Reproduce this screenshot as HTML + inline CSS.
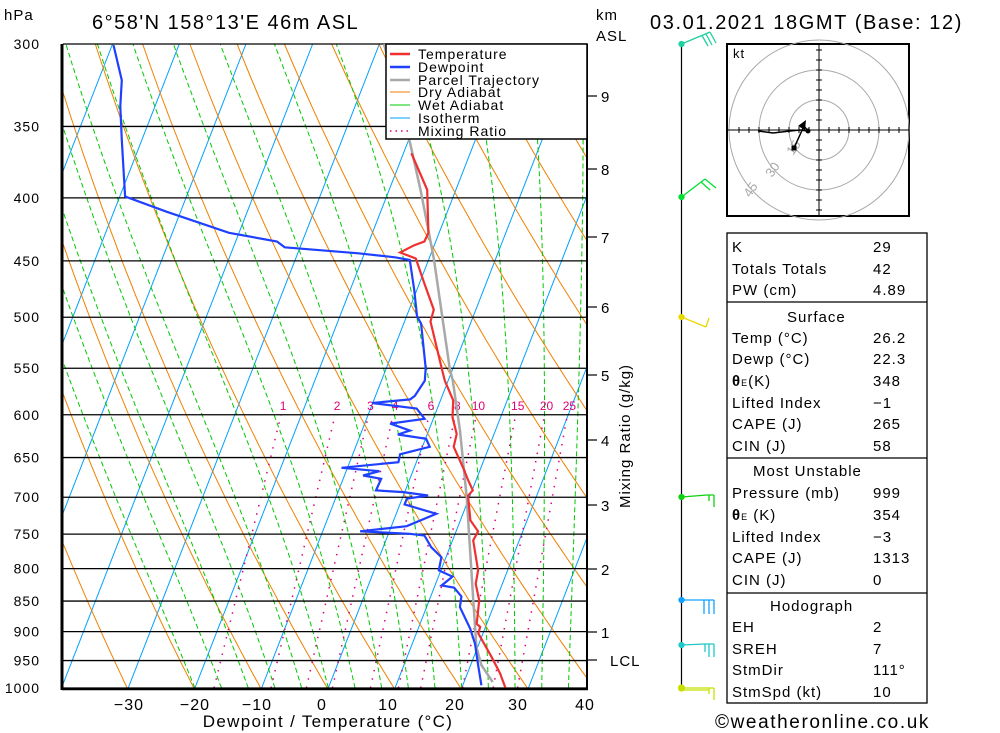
<!DOCTYPE html>
<html><head><meta charset="utf-8">
<style>
html,body{margin:0;padding:0;background:#fff;}
svg{display:block;font-family:"Liberation Sans",sans-serif;}
.t{font-size:15px;letter-spacing:1px;fill:#000;}
</style></head>
<body>
<svg id="chart" width="1000" height="733" viewBox="0 0 1000 733" xmlns="http://www.w3.org/2000/svg">
<defs><clipPath id="plotclip"><rect x="63" y="44" width="524" height="644"/></clipPath></defs>
<rect x="0" y="0" width="1000" height="733" fill="#fff"/>
<g id="bg" clip-path="url(#plotclip)"></g>
<g id="plines"></g>
<g id="series" clip-path="url(#plotclip)"></g>
<g id="axes"></g>

<text x="4" y="20" font-size="15" letter-spacing="1">hPa</text>
<text x="92" y="29" font-size="20" letter-spacing="1.5">6°58'N  158°13'E  46m  ASL</text>
<text x="596" y="20" font-size="15" letter-spacing="1">km</text>
<text x="596" y="41" font-size="15" letter-spacing="1">ASL</text>
<text x="650" y="29" font-size="20" letter-spacing="1.6">03.01.2021  18GMT  (Base: 12)</text>
<text x="328" y="727" font-size="17" letter-spacing="1.3" text-anchor="middle">Dewpoint / Temperature (°C)</text>
<text x="715" y="728" font-size="19" letter-spacing="1.6">©weatheronline.co.uk</text>
<text transform="translate(630,508) rotate(-90)" font-size="15" letter-spacing="1">Mixing Ratio (g/kg)</text>

<g>
<rect x="386" y="44" width="201" height="95" fill="#fff" stroke="#000" stroke-width="1.5"/>
<g font-size="14" letter-spacing="1">
<line x1="390" y1="54" x2="410" y2="54" stroke="#f03030" stroke-width="2.5"/><text x="418" y="59">Temperature</text>
<line x1="390" y1="67" x2="410" y2="67" stroke="#2040ff" stroke-width="2.5"/><text x="418" y="72">Dewpoint</text>
<line x1="390" y1="80" x2="410" y2="80" stroke="#a8a8a8" stroke-width="2.5"/><text x="418" y="85">Parcel Trajectory</text>
<line x1="390" y1="92" x2="410" y2="92" stroke="#f08000" stroke-width="1"/><text x="418" y="97">Dry Adiabat</text>
<line x1="390" y1="105" x2="410" y2="105" stroke="#00c800" stroke-width="1"/><text x="418" y="110">Wet Adiabat</text>
<line x1="390" y1="118" x2="410" y2="118" stroke="#00a0ff" stroke-width="1"/><text x="418" y="123">Isotherm</text>
<line x1="390" y1="131" x2="410" y2="131" stroke="#e0007a" stroke-width="1.5" stroke-dasharray="1.5 4"/><text x="418" y="136">Mixing Ratio</text>
</g></g>

<g stroke-width="1.3" fill="none">
<line x1="681.5" y1="44" x2="681.5" y2="688" stroke="#000" stroke-width="1.2"/>
<g stroke="#20d0a0"><polyline points="681.5,44 710,32"/><line x1="710" y1="32" x2="716" y2="43"/><line x1="706" y1="34" x2="712" y2="45"/><line x1="702" y1="35.5" x2="708" y2="46"/><circle cx="681.5" cy="44" r="2.5" fill="#20d0a0"/></g>
<g stroke="#00e030"><polyline points="681.5,197 705,179"/><line x1="705" y1="179" x2="716" y2="188"/><line x1="701" y1="182" x2="710" y2="190"/><circle cx="681.5" cy="197" r="2.5" fill="#00e030"/></g>
<g stroke="#e8d800"><polyline points="681.5,317 706,327"/><line x1="706" y1="327" x2="709" y2="318"/><circle cx="681.5" cy="317" r="2.5" fill="#e8d800"/></g>
<g stroke="#10d010"><polyline points="681.5,497 707,495 714,495"/><line x1="714" y1="495" x2="714" y2="507"/><line x1="709" y1="495" x2="709" y2="501"/><circle cx="681.5" cy="497" r="2.5" fill="#10d010"/></g>
<g stroke="#10a0ff"><polyline points="681.5,600 714,600"/><line x1="714" y1="600" x2="714" y2="614"/><line x1="709" y1="600" x2="709" y2="614"/><line x1="704" y1="600" x2="704" y2="614"/><circle cx="681.5" cy="600" r="2.5" fill="#10a0ff"/></g>
<g stroke="#20c8c8"><polyline points="681.5,645 705,644 714,644"/><line x1="714" y1="644" x2="714" y2="657"/><line x1="709" y1="644" x2="709" y2="657"/><line x1="705" y1="644" x2="705" y2="652"/><circle cx="681.5" cy="645" r="2.5" fill="#20c8c8"/></g>
<g stroke="#c8e000"><polyline points="681.5,688 714,688"/><line x1="714" y1="688" x2="714" y2="700"/><line x1="709" y1="688" x2="709" y2="694"/><line x1="681.5" y1="690" x2="709" y2="690"/><circle cx="681.5" cy="688" r="3" fill="#c8e000"/></g>
</g>

<g>
<rect x="727" y="44" width="182" height="172" fill="#fff" stroke="#000" stroke-width="2"/>
<g fill="none" stroke="#a8a8a8" stroke-width="1">
<circle cx="819" cy="130" r="30"/><circle cx="819" cy="130" r="60"/><circle cx="819" cy="130" r="90"/>
</g>
<g id="hodoaxes" stroke="#000" stroke-width="1"></g>
<text x="733" y="58" font-size="13" letter-spacing="1">kt</text>
<g fill="#a8a8a8" font-size="13">
<text transform="translate(793,156) rotate(-55)">15</text>
<text transform="translate(772,178) rotate(-55)">30</text>
<text transform="translate(750,198) rotate(-55)">45</text>
</g>
<polyline points="794,148 804,126 808,131 800,130 790,131 773,133 758,131" fill="none" stroke="#000" stroke-width="1.5"/>
<rect x="791.5" y="145.5" width="5" height="5" fill="#000"/>
<path d="M798,126 L806,120 L805,130 Z" fill="#000"/>
<circle cx="808" cy="131" r="2.5" fill="#000"/>
</g>

<g>
<g fill="none" stroke="#000" stroke-width="1.3">
<rect x="727" y="233" width="200" height="470"/>
<line x1="727" y1="302" x2="927" y2="302"/>
<line x1="727" y1="458" x2="927" y2="458"/>
<line x1="727" y1="593" x2="927" y2="593"/>
</g>
<g class="t">
<text x="732" y="252">K</text><text x="873" y="252">29</text>
<text x="732" y="274">Totals Totals</text><text x="873" y="274">42</text>
<text x="732" y="295">PW (cm)</text><text x="873" y="295">4.89</text>
<text x="787" y="322">Surface</text>
<text x="732" y="343">Temp (°C)</text><text x="873" y="343">26.2</text>
<text x="732" y="364">Dewp (°C)</text><text x="873" y="364">22.3</text>
<text x="732" y="386"><tspan font-weight="bold">θ</tspan><tspan font-size="9">E</tspan>(K)</text><text x="873" y="386">348</text>
<text x="732" y="408">Lifted Index</text><text x="873" y="408">−1</text>
<text x="732" y="429">CAPE (J)</text><text x="873" y="429">265</text>
<text x="732" y="451">CIN (J)</text><text x="873" y="451">58</text>
<text x="753" y="476">Most Unstable</text>
<text x="732" y="498">Pressure (mb)</text><text x="873" y="498">999</text>
<text x="732" y="520"><tspan font-weight="bold">θ</tspan><tspan font-size="9">E</tspan> (K)</text><text x="873" y="520">354</text>
<text x="732" y="542">Lifted Index</text><text x="873" y="542">−3</text>
<text x="732" y="563">CAPE (J)</text><text x="873" y="563">1313</text>
<text x="732" y="585">CIN (J)</text><text x="873" y="585">0</text>
<text x="770" y="611">Hodograph</text>
<text x="732" y="632">EH</text><text x="873" y="632">2</text>
<text x="732" y="654">SREH</text><text x="873" y="654">7</text>
<text x="732" y="675">StmDir</text><text x="873" y="675">111°</text>
<text x="732" y="697">StmSpd (kt)</text><text x="873" y="697">10</text>
</g></g>
</svg>

<script>
// ---- data ----
const pressureLevels = [300,350,400,450,500,550,600,650,700,750,800,850,900,950,1000];
const tempTicks = [-30,-20,-10,0,10,20,30,40];
const tempTickX = [129,195,257,322,388,455,518,585];
const kmLabels = ["1","2","3","4","5","6","7","8","9"];
const kmY = [632,569,505,440,375,307,237,169,96];
const mixingRatios = [1,2,3,4,6,8,10,15,20,25];
const tempP = [368,394,427,434,437,443,448,469,493,504,550,563,584,603,622,637,662,678,691,698,731,746,759,803,823,849,887,892,903,944,973,999];
const tempT = [-18.8,-14.3,-11.6,-11.7,-13.0,-14.7,-12.0,-9.3,-6.3,-6.1,-1.7,-0.5,1.9,2.8,4.4,4.7,7.3,8.8,10.1,9.7,11.5,13.3,13.1,15.6,16.0,17.5,18.5,19.2,19.3,22.7,24.9,26.5];
const dewP = [300.6,321,337,359,399,410.5,427,434,438.7,443.7,447,449.3,475,499.5,506,550,563,579,583,587,593,604.5,610,618,622.5,627.6,637,646,655.6,662.6,666.8,672.2,676.3,691.2,693.4,697.7,702,709.5,722,739,746,749.6,752,768.6,783,802.7,812,825.6,829,842.6,859.7,895,920.6,955.4,995];
const dewT = [-69.8,-66.5,-65.2,-63.0,-59.2,-52.1,-41.5,-33.8,-32.3,-20.9,-15.2,-12.8,-10.4,-8.4,-7.4,-4.1,-3.5,-4.1,-4.6,-10.1,-3.1,-1.3,-6.2,-2.8,-4.4,0.1,1.1,-2.9,-2.7,-10.9,-5.0,-7.2,-4.3,-4.4,-0.2,3.7,0.7,0.7,6.0,2.3,-4.4,3.2,5.5,7.2,9.3,9.7,12.1,11.0,13.0,14.6,15.0,17.8,19.4,21.0,22.8];
const parcelP = [300,361,394,420,449,550,563,618,700,844,926,958,989];
const parcelT = [-29.3,-19.6,-15.3,-12.3,-9.2,-0.5,0.7,4.7,9.6,16.4,19.8,21.6,24.3];
const isotherms = [-120,-110,-100,-90,-80,-70,-60,-50,-40,-30,-20,-10,0,10,20,30,40];
const dryTheta = [233,243,253,263,273,283,293,303,313,323,333,343,353,363,373,383,393,403,413,423,433,443,453];
const wetStart = [-20,-16,-12,-8,-4,0,4,8,12,16,20,24,28,32,36];

const NS='http://www.w3.org/2000/svg';
function yP(p){return 44 + Math.log(p/300)/Math.log(1000/300)*644;}
function xT(T,p){return 328.3 + 6.67*T + 0.39*(688 - yP(p));}
function mk(tag,attrs,parent){const e=document.createElementNS(NS,tag);for(const k in attrs)e.setAttribute(k,attrs[k]);parent.appendChild(e);return e;}
function pathFrom(ps,ts){let d='';for(let i=0;i<ps.length;i++){d+=(i?'L':'M')+xT(ts[i],ps[i]).toFixed(1)+','+yP(ps[i]).toFixed(1);}return d;}

const bg=document.getElementById('bg');
isotherms.forEach(T=>{
  const el=mk('line',{x1:xT(T,1000),y1:yP(1000),x2:xT(T,300),y2:yP(300),stroke:'#00a0ff','stroke-width':1},bg);
  
  
});
dryTheta.forEach(th=>{
  let d='';for(let p=1000;p>=300;p-=10){const T=th*Math.pow(p/1000,0.286)-273.15;d+=(p===1000?'M':'L')+xT(T,p).toFixed(1)+','+yP(p).toFixed(1);}
  const el=mk('path',{d:d,fill:'none',stroke:'#f08000','stroke-width':1},bg);
  
  
});
wetStart.forEach(t0=>{
  let T=t0+273.15,d='M'+xT(t0,1000).toFixed(1)+','+yP(1000).toFixed(1);
  for(let p=1000;p>300;p-=2){
    const es=6.112*Math.exp(17.67*(T-273.15)/(T-29.65));const rs=0.622*es/(p-es);
    const dTdp=(287*T+2.5e6*rs)/(p*(1004+2.5e6*2.5e6*rs*0.622/(287*T*T)));
    T+=dTdp*(-2);
    d+='L'+xT(T-273.15,p-2).toFixed(1)+','+yP(p-2).toFixed(1);
  }
  const el=mk('path',{d:d,fill:'none',stroke:'#00c800','stroke-width':1,'stroke-dasharray':'5 3'},bg);
  
  
});
function tdFromW(w,p){const e=w*p/(622+w);const l=Math.log(e/6.112);return 243.5*l/(17.67-l);}
mixingRatios.forEach(w=>{
  const el=mk('line',{x1:xT(tdFromW(w,1000),1000),y1:yP(1000),x2:xT(tdFromW(w,600),600),y2:yP(600),stroke:'#e0007a','stroke-width':1.5,'stroke-dasharray':'1.5 7'},bg);
  
  
  const tx=mk('text',{x:xT(tdFromW(w,600),600)+2,y:410,'font-size':12,fill:'#e0007a','text-anchor':'middle'},bg);
  tx.textContent=w;
  
  
});

const pl=document.getElementById('plines');
pressureLevels.forEach(p=>{
  const y=yP(p);
  const el=mk('line',{x1:63,y1:y,x2:587,y2:y,stroke:'#000','stroke-width':1.3},pl);
  
  
  const tx=mk('text',{x:40,y:y+5,'font-size':14,'letter-spacing':1,'text-anchor':'end'},pl);
  tx.textContent=p;
  
  
});

const sg=document.getElementById('series');
const par=mk('path',{d:pathFrom(parcelP,parcelT),fill:'none',stroke:'#a8a8a8','stroke-width':2.5},sg);


const dw=mk('path',{d:pathFrom(dewP,dewT),fill:'none',stroke:'#2040ff','stroke-width':2.2},sg);


const tp=mk('path',{d:pathFrom(tempP,tempT),fill:'none',stroke:'#f03030','stroke-width':2.2},sg);



const ax=document.getElementById('axes');
mk('line',{x1:62,y1:44,x2:62,y2:690,stroke:'#000','stroke-width':3},ax);
mk('line',{x1:62,y1:689,x2:588,y2:689,stroke:'#000','stroke-width':2.5},ax);
mk('line',{x1:587,y1:44,x2:587,y2:690,stroke:'#000','stroke-width':2},ax);
tempTicks.forEach((t,i)=>{
  const tx=mk('text',{x:tempTickX[i],y:710,'font-size':16,'letter-spacing':1,'text-anchor':'middle'},ax);
  tx.textContent=(t<0?'\u2212'+(-t):t);
  
  
});
kmLabels.forEach((k,i)=>{
  mk('line',{x1:587,y1:kmY[i],x2:597,y2:kmY[i],stroke:'#000','stroke-width':1.2},ax);
  const tx=mk('text',{x:601,y:kmY[i]+6,'font-size':15},ax);
  tx.textContent=k;
  
  
});
mk('line',{x1:587,y1:660,x2:597,y2:660,stroke:'#000','stroke-width':1.2},ax);
const lcl=mk('text',{x:610,y:666,'font-size':15,'letter-spacing':1},ax);
lcl.textContent='LCL';



const ha=document.getElementById('hodoaxes');
mk('line',{x1:727,y1:130,x2:909,y2:130},ha);
mk('line',{x1:819,y1:44,x2:819,y2:216},ha);
for(let k=-8;k<=8;k++){if(!k)continue;const o=k*10;
  mk('line',{x1:819+o,y1:127,x2:819+o,y2:133},ha);
  mk('line',{x1:816,y1:130+o,x2:822,y2:130+o},ha);}
</script>
</body></html>
